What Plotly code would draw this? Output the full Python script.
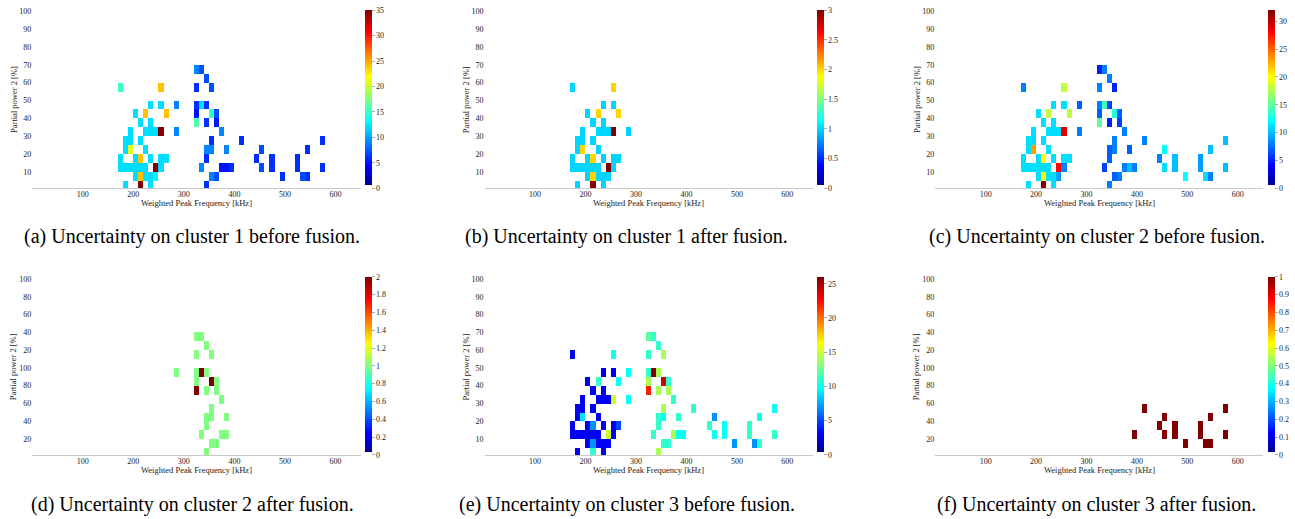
import plotly.graph_objects as go

W, H = 1295, 519
FONT = "Liberation Serif"

# ---- data: (frequency bin start [kHz], partial power bin start [%], value) ----
cells_a = [
    (320, 65, 9), (330, 65, 7),
    (340, 60, 7),
    (170, 55, 15), (250, 55, 24), (320, 55, 6), (350, 55, 7),
    (230, 45, 12), (250, 45, 12), (280, 45, 9), (320, 45, 6), (330, 45, 12), (340, 45, 6),
    (200, 40, 12), (220, 40, 24), (260, 40, 24), (320, 40, 5), (350, 40, 15), (360, 40, 7),
    (210, 35, 12), (230, 35, 12), (320, 35, 16), (340, 35, 6), (360, 35, 5),
    (190, 30, 12), (220, 30, 12), (230, 30, 12), (240, 30, 12), (250, 30, 35), (280, 30, 9), (370, 30, 9),
    (180, 25, 12), (190, 25, 12), (210, 25, 12), (350, 25, 6), (410, 25, 6), (570, 25, 6),
    (180, 20, 12), (190, 20, 21), (220, 20, 12), (340, 20, 9), (350, 20, 9), (380, 20, 9), (450, 20, 7), (540, 20, 6),
    (170, 15, 12), (200, 15, 12), (210, 15, 24), (230, 15, 12), (250, 15, 12), (260, 15, 12),
    (340, 15, 6), (440, 15, 6), (470, 15, 6), (520, 15, 6),
    (170, 10, 12), (180, 10, 12), (190, 10, 12), (200, 10, 12), (210, 10, 12), (220, 10, 12),
    (240, 10, 35), (250, 10, 12), (330, 10, 9), (370, 10, 5), (380, 10, 5), (390, 10, 6),
    (450, 10, 7), (470, 10, 6), (520, 10, 6), (570, 10, 6),
    (200, 5, 12), (210, 5, 24), (220, 5, 12), (230, 5, 12), (240, 5, 13), (350, 5, 9), (360, 5, 7),
    (490, 5, 6), (530, 5, 7), (540, 5, 6),
    (180, 0, 12), (210, 0, 35), (230, 0, 12), (340, 0, 6),
]

cells_b = [
    (170, 55, 1), (250, 55, 2),
    (230, 45, 1), (250, 45, 1),
    (200, 40, 1), (220, 40, 2), (260, 40, 2),
    (210, 35, 1), (230, 35, 1),
    (190, 30, 1), (220, 30, 1), (230, 30, 1), (240, 30, 1), (250, 30, 3), (280, 30, 1),
    (180, 25, 1), (190, 25, 1), (210, 25, 1),
    (180, 20, 1), (190, 20, 2), (220, 20, 1),
    (170, 15, 1), (200, 15, 1), (210, 15, 2), (230, 15, 1), (250, 15, 1), (260, 15, 1),
    (170, 10, 1), (180, 10, 1), (190, 10, 1), (200, 10, 1), (210, 10, 1), (220, 10, 1),
    (240, 10, 3), (250, 10, 1),
    (200, 5, 1), (210, 5, 2), (220, 5, 1), (230, 5, 1), (240, 5, 1),
    (180, 0, 1), (210, 0, 3), (230, 0, 1),
]

cells_c = [
    (320, 65, 5), (330, 65, 8),
    (340, 60, 8),
    (170, 55, 8), (250, 55, 18), (320, 55, 8), (350, 55, 5),
    (230, 45, 11), (250, 45, 11), (280, 45, 7), (320, 45, 8), (330, 45, 14), (340, 45, 6),
    (200, 40, 11), (220, 40, 18), (260, 40, 18), (320, 40, 7), (350, 40, 13), (360, 40, 7),
    (210, 35, 11), (230, 35, 11), (320, 35, 15), (340, 35, 5), (360, 35, 6),
    (190, 30, 11), (220, 30, 11), (230, 30, 11), (240, 30, 11), (250, 30, 29), (280, 30, 8), (370, 30, 8),
    (180, 25, 11), (190, 25, 11), (210, 25, 11), (350, 25, 8), (410, 25, 8), (570, 25, 10),
    (180, 20, 11), (190, 20, 23), (220, 20, 11), (340, 20, 7), (350, 20, 8), (380, 20, 7), (450, 20, 12), (540, 20, 10),
    (170, 15, 11), (200, 15, 11), (210, 15, 20), (230, 15, 11), (250, 15, 11), (260, 15, 11),
    (340, 15, 7), (440, 15, 8), (470, 15, 10), (520, 15, 9),
    (170, 10, 11), (180, 10, 11), (190, 10, 11), (200, 10, 11), (210, 10, 11), (220, 10, 11),
    (240, 10, 28), (250, 10, 8), (330, 10, 6), (370, 10, 8), (380, 10, 10), (390, 10, 8),
    (450, 10, 11), (470, 10, 10), (520, 10, 9), (570, 10, 10),
    (200, 5, 11), (210, 5, 20), (220, 5, 11), (230, 5, 11), (240, 5, 9), (350, 5, 7), (360, 5, 8),
    (490, 5, 12), (530, 5, 11), (540, 5, 8),
    (180, 0, 11), (210, 0, 32), (230, 0, 11), (340, 0, 8),
]

cells_d = [
    (320, 65, 1), (330, 65, 1),
    (340, 60, 1),
    (320, 55, 1), (350, 55, 1),
    (280, 45, 1), (320, 45, 1), (330, 45, 2), (340, 45, 1),
    (320, 40, 1), (350, 40, 2), (360, 40, 1),
    (320, 35, 2), (340, 35, 1), (360, 35, 1),
    (370, 30, 1),
    (350, 25, 1),
    (340, 20, 1), (350, 20, 1), (380, 20, 1),
    (340, 15, 1),
    (330, 10, 1), (370, 10, 1), (380, 10, 1),
    (350, 5, 1), (360, 5, 1),
    (340, 0, 1),
]

cells_e = [
    (320, 65, 12), (330, 65, 11),
    (340, 60, 11),
    (170, 55, 3), (250, 55, 10), (320, 55, 11), (350, 55, 14),
    (230, 45, 3), (250, 45, 3), (280, 45, 10), (320, 45, 11), (330, 45, 26), (340, 45, 14),
    (200, 40, 3), (220, 40, 11), (260, 40, 10), (320, 40, 14), (350, 40, 24), (360, 40, 11),
    (210, 35, 3), (230, 35, 3), (320, 35, 22), (340, 35, 14), (360, 35, 14),
    (190, 30, 3), (220, 30, 3), (230, 30, 3), (240, 30, 3), (250, 30, 15), (280, 30, 10), (370, 30, 11),
    (180, 25, 3), (190, 25, 3), (210, 25, 3), (350, 25, 14), (410, 25, 11), (570, 25, 10),
    (180, 20, 3), (190, 20, 9), (220, 20, 3), (340, 20, 11), (350, 20, 10), (380, 20, 11), (450, 20, 7), (540, 20, 10),
    (170, 15, 3), (200, 15, 3), (210, 15, 7), (230, 15, 3), (250, 15, 3), (260, 15, 5),
    (340, 15, 11), (440, 15, 11), (470, 15, 10), (520, 15, 11),
    (170, 10, 3), (180, 10, 3), (190, 10, 3), (200, 10, 3), (210, 10, 3), (220, 10, 3),
    (240, 10, 15), (250, 10, 3), (330, 10, 11), (370, 10, 14), (380, 10, 10), (390, 10, 10),
    (450, 10, 10), (470, 10, 10), (520, 10, 11), (570, 10, 11),
    (200, 5, 3), (210, 5, 7), (220, 5, 3), (230, 5, 3), (240, 5, 3), (350, 5, 11), (360, 5, 11),
    (490, 5, 7), (530, 5, 7), (540, 5, 11),
    (180, 0, 3), (210, 0, 11), (230, 0, 3), (340, 0, 14),
]

cells_f = [
    (410, 25, 1), (570, 25, 1),
    (450, 20, 1), (540, 20, 1),
    (440, 15, 1), (470, 15, 1), (520, 15, 1),
    (390, 10, 1), (450, 10, 1), (470, 10, 1), (520, 10, 1), (570, 10, 1),
    (490, 5, 1), (530, 5, 1), (540, 5, 1),
]

x_tick_vals = [100, 200, 300, 400, 500, 600]
y_tick_vals = [10, 20, 30, 40, 50, 60, 70, 80, 90, 100]
y_tick_text_normal = ["10", "20", "30", "40", "50", "60", "70", "80", "90", "100"]
y_tick_text_odd = ["20", "40", "60", "80", "100", "20", "40", "60", "80", "100"]

cb_a = [0, 5, 10, 15, 20, 25, 30, 35]
cb_b = [0, 0.5, 1, 1.5, 2, 2.5, 3]
cb_c = [0, 5, 10, 15, 20, 25, 30]
cb_d = [0, 0.2, 0.4, 0.6, 0.8, 1, 1.2, 1.4, 1.6, 1.8, 2]
cb_e = [0, 5, 10, 15, 20, 25]
cb_f = [0, 0.1, 0.2, 0.3, 0.4, 0.5, 0.6, 0.7, 0.8, 0.9, 1]

captions = [
    "(a) Uncertainty on cluster 1 before fusion.",
    "(b) Uncertainty on cluster 1 after fusion.",
    "(c) Uncertainty on cluster 2 before fusion.",
    "(d) Uncertainty on cluster 2 after fusion.",
    "(e) Uncertainty on cluster 3 before fusion.",
    "(f) Uncertainty on cluster 3 after fusion.",
]

NX, NY = 65, 20  # 10 kHz x 5 % bins

jet = [
    [0.0, "rgb(255,255,255)"], [1 / 64, "rgb(255,255,255)"],
    [1 / 64, "rgb(0,0,143)"], [0.125, "rgb(0,0,255)"],
    [0.375, "rgb(0,255,255)"], [0.625, "rgb(255,255,0)"],
    [0.875, "rgb(255,0,0)"], [1.0, "rgb(128,0,0)"],
]

# panel geometry in pixels: plot left, right, top, bottom ; colorbar left ; caption centre x, y
panels = [
    dict(cells=cells_a, cmax=35, cb=cb_a, yt=y_tick_text_normal, l=32.3, r=360.7, t=11, b=188.3, cbx=365, cbt=10, cbb=188.3, cx=192, cy=237),
    dict(cells=cells_b, cmax=3, cb=cb_b, yt=y_tick_text_normal, l=484.5, r=812.6, t=11, b=188.3, cbx=816.7, cbt=10, cbb=188.3, cx=626.5, cy=237),
    dict(cells=cells_c, cmax=32, cb=cb_c, yt=y_tick_text_normal, l=935.3, r=1262.9, t=11, b=188.3, cbx=1268.3, cbt=10, cbb=188.3, cx=1096.5, cy=237),
    dict(cells=cells_d, cmax=2, cb=cb_d, yt=y_tick_text_odd, l=32.3, r=360.7, t=279, b=455, cbx=365, cbt=276.7, cbb=455, cx=192, cy=504),
    dict(cells=cells_e, cmax=26, cb=cb_e, yt=y_tick_text_normal, l=484.5, r=812.6, t=279, b=455, cbx=816.7, cbt=276.7, cbb=455, cx=626.5, cy=504),
    dict(cells=cells_f, cmax=1, cb=cb_f, yt=y_tick_text_odd, l=935.3, r=1262.9, t=279, b=455, cbx=1268.3, cbt=276.7, cbb=455, cx=1096.5, cy=504),
]

fig = go.Figure()
annotations = []
layout = {}

for k, p in enumerate(panels):
    n = k + 1
    sx = "" if n == 1 else str(n)
    z = [[None] * NX for _ in range(NY)]
    for f, pp, v in p["cells"]:
        z[int(pp // 5)][int(f // 10)] = v
    cb_mid = (p["cbt"] + p["cbb"]) / 2
    fig.add_trace(go.Heatmap(
        z=z, x0=5, dx=10, y0=2.5, dy=5,
        zmin=0, zmax=p["cmax"], colorscale=jet,
        xaxis="x" + sx, yaxis="y" + sx, hoverongaps=False,
        colorbar=dict(
            x=p["cbx"] / W, xanchor="left", xpad=0, ypad=0,
            y=1 - cb_mid / H, yanchor="middle",
            len=p["cbb"] - p["cbt"], lenmode="pixels",
            thickness=6.7, thicknessmode="pixels",
            outlinewidth=0,
            tickvals=p["cb"], ticktext=[("%g" % v) for v in p["cb"]],
            ticks="outside", ticklen=3, tickcolor="#aaaaaa",
            ticklabeloverflow="allow",
            tickfont=dict(family=FONT, size=8, color="#222222"),
        ),
    ))
    layout["xaxis" + sx] = dict(
        domain=[p["l"] / W, p["r"] / W], anchor="y" + sx, range=[0, 650],
        tickvals=x_tick_vals, ticks="", showgrid=False, zeroline=False,
        showline=True, linecolor="#c8c8c8", linewidth=1,
        ticklabelstandoff=-2,
        tickfont=dict(family=FONT, size=8, color="#222222"),
    )
    layout["yaxis" + sx] = dict(
        domain=[1 - p["b"] / H, 1 - p["t"] / H], anchor="x" + sx, range=[1, 100],
        tickvals=y_tick_vals, ticktext=p["yt"], ticks="", showgrid=False, zeroline=False,
        showline=False,
        tickfont=dict(family=FONT, size=8, color="#222222"),
    )
    annotations.append(dict(
        text="Weighted Peak Frequency [kHz]", xref="paper", yref="paper",
        x=((p["l"] + p["r"]) / 2) / W,
        y=1 - (p["b"] + 15) / H, xanchor="center", yanchor="middle", showarrow=False,
        font=dict(family=FONT, size=8.5, color="#222222"),
    ))
    annotations.append(dict(
        text="Partial power 2 [%]", xref="paper", yref="paper",
        x=(p["l"] - 19) / W, y=1 - ((p["t"] + p["b"]) / 2) / H, textangle=-90,
        xanchor="center", yanchor="middle", showarrow=False,
        font=dict(family=FONT, size=8.5, color="#222222"),
    ))
    annotations.append(dict(
        text=captions[k], xref="paper", yref="paper",
        x=p["cx"] / W, y=1 - p["cy"] / H, xanchor="center", yanchor="middle", showarrow=False,
        font=dict(family=FONT, size=20, color="#000000"),
    ))

fig.update_layout(
    template="none",
    width=W, height=H, margin=dict(l=0, r=0, t=0, b=0, autoexpand=False),
    paper_bgcolor="white", plot_bgcolor="white", showlegend=False,
    annotations=annotations, **layout,
)

fig.write_html(
    "out.html",
    config={"displayModeBar": False},
    post_script="document.body.style.margin='0';document.body.style.padding='0';",
)
